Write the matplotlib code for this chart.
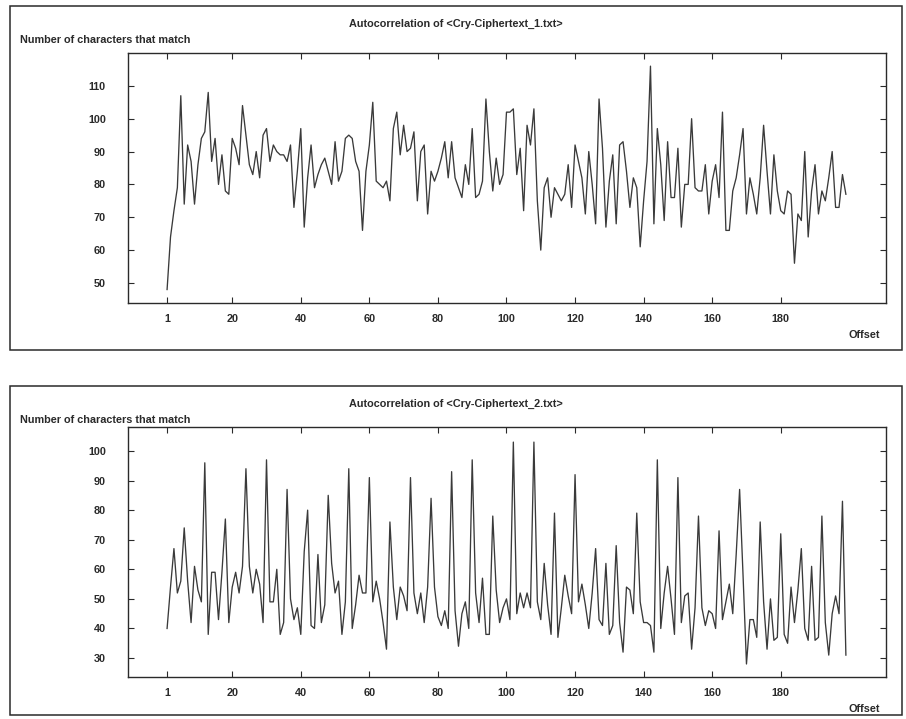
import matplotlib
matplotlib.use("Agg")
import matplotlib.pyplot as plt
from matplotlib.patches import Rectangle

# ---------------- data ----------------
titles = ["Autocorrelation of <Cry-Ciphertext_1.txt>",
          "Autocorrelation of <Cry-Ciphertext_2.txt>"]
y_label = "Number of characters that match"
x_label = "Offset"
x_ticks = [1, 20, 40, 60, 80, 100, 120, 140, 160, 180]
y_ticks_1 = [50, 60, 70, 80, 90, 100, 110]
y_ticks_2 = [30, 40, 50, 60, 70, 80, 90, 100]

matches_1 = [
    48, 64, 72, 79, 107, 74, 92, 87, 74, 86,
    94, 96, 108, 87, 94, 80, 89, 78, 77, 94,
    91, 86, 104, 95, 86, 83, 90, 82, 95, 97,
    87, 92, 90, 89, 89, 87, 92, 73, 84, 97,
    67, 82, 92, 79, 83, 86, 88, 84, 80, 93,
    81, 84, 94, 95, 94, 87, 84, 66, 84, 92,
    105, 81, 80, 79, 81, 75, 97, 102, 89, 98,
    90, 91, 96, 75, 90, 92, 71, 84, 81, 84,
    88, 93, 82, 93, 82, 79, 76, 86, 80, 97,
    76, 77, 81, 106, 90, 78, 88, 80, 83, 102,
    102, 103, 83, 91, 72, 98, 92, 103, 75, 60,
    79, 82, 70, 79, 77, 75, 77, 86, 73, 92,
    87, 82, 71, 90, 80, 68, 106, 91, 67, 81,
    89, 68, 92, 93, 84, 73, 82, 79, 61, 75,
    87, 116, 68, 97, 86, 69, 93, 76, 76, 91,
    67, 80, 80, 100, 79, 78, 78, 86, 71, 81,
    86, 76, 102, 66, 66, 78, 82, 89, 97, 71,
    82, 77, 71, 82, 98, 84, 71, 89, 78, 72,
    71, 78, 77, 56, 71, 69, 90, 64, 78, 86,
    71, 78, 75, 82, 90, 73, 73, 83, 77,
]

matches_2 = [
    40, 54, 67, 52, 56, 74, 56, 42, 61, 53,
    49, 96, 38, 59, 59, 43, 59, 77, 42, 54,
    59, 52, 61, 94, 61, 52, 60, 55, 42, 97,
    49, 49, 60, 38, 42, 87, 50, 43, 47, 38,
    66, 80, 41, 40, 65, 42, 48, 85, 62, 52,
    56, 38, 49, 94, 40, 48, 58, 52, 52, 91,
    49, 56, 50, 42, 33, 76, 54, 43, 54, 51,
    46, 91, 52, 45, 52, 42, 54, 84, 54, 44,
    41, 46, 40, 93, 46, 34, 45, 49, 40, 97,
    52, 42, 57, 38, 38, 78, 53, 42, 47, 50,
    43, 103, 45, 52, 47, 52, 47, 103, 49, 43,
    62, 48, 38, 79, 37, 47, 58, 51, 45, 92,
    49, 55, 48, 40, 52, 67, 43, 41, 62, 38,
    41, 68, 42, 32, 54, 53, 45, 79, 49, 42,
    42, 41, 32, 97, 40, 52, 61, 50, 38, 91,
    42, 51, 52, 33, 47, 78, 47, 41, 46, 45,
    40, 73, 43, 49, 55, 45, 65, 87, 58, 28,
    43, 43, 37, 76, 49, 33, 50, 36, 37, 72,
    38, 35, 54, 42, 53, 67, 40, 36, 61, 36,
    37, 78, 42, 31, 45, 51, 45, 83, 31,
]

# ---------------- style ----------------
plt.rcParams['font.family'] = ['Liberation Sans', 'DejaVu Sans']
plt.rcParams['font.weight'] = 'bold'
FS = 7.8
INK = '#2a2a2a'
LINE = '#3a3a3a'

W, H = 906, 719
fig = plt.figure(figsize=(W / 100, H / 100), dpi=100)
fig.patch.set_facecolor('white')


def fx(px):
    return px / W


def fy(py):
    return 1 - py / H


panels = [
    dict(data=matches_1, title=titles[0], yticks=y_ticks_1, ylim=(43.9, 120.0),
         frame=(10, 6, 902, 350), ax=(128, 53, 886, 303)),
    dict(data=matches_2, title=titles[1], yticks=y_ticks_2, ylim=(23.6, 108.1),
         frame=(10, 386, 902, 715), ax=(128, 427, 886, 677)),
]

for p in panels:
    fl, ft, fr, fb = p['frame']
    fig.add_artist(Rectangle((fx(fl), fy(fb)), fx(fr) - fx(fl), fy(ft) - fy(fb),
                             transform=fig.transFigure, fill=False,
                             edgecolor=INK, linewidth=1.1))
    al, at, ar, ab = p['ax']
    ax = fig.add_axes([fx(al), fy(ab), fx(ar) - fx(al), fy(at) - fy(ab)])
    xs = list(range(1, len(p['data']) + 1))
    ax.plot(xs, p['data'], color=LINE, linewidth=0.95)
    ax.set_xlim(-10.4, 210.7)
    ax.set_ylim(*p['ylim'])
    ax.set_xticks(x_ticks)
    ax.set_xticklabels([str(t) for t in x_ticks])
    ax.set_yticks(p['yticks'])
    ax.set_yticklabels([str(t) for t in p['yticks']])
    ax.tick_params(direction='in', length=4, width=0.8, colors=INK,
                   top=True, right=True, labelsize=FS)
    ax.tick_params(axis='y', pad=16)
    ax.tick_params(axis='x', pad=8)
    for lab in ax.get_xticklabels() + ax.get_yticklabels():
        lab.set_fontweight('bold')
    for s in ax.spines.values():
        s.set_color(INK)
        s.set_linewidth(1.0)

    fig.text(fx(456), fy(ft + 18), p['title'], ha='center', va='center',
             fontsize=FS, fontweight='bold', color=INK)
    fig.text(fx(20), fy(ft + 34), y_label, ha='left', va='center',
             fontsize=FS, fontweight='bold', color=INK)
    fig.text(fx(880), fy(ab + 32), x_label, ha='right', va='center',
             fontsize=FS, fontweight='bold', color=INK)

fig.savefig('out.png', dpi=100, facecolor='white')
